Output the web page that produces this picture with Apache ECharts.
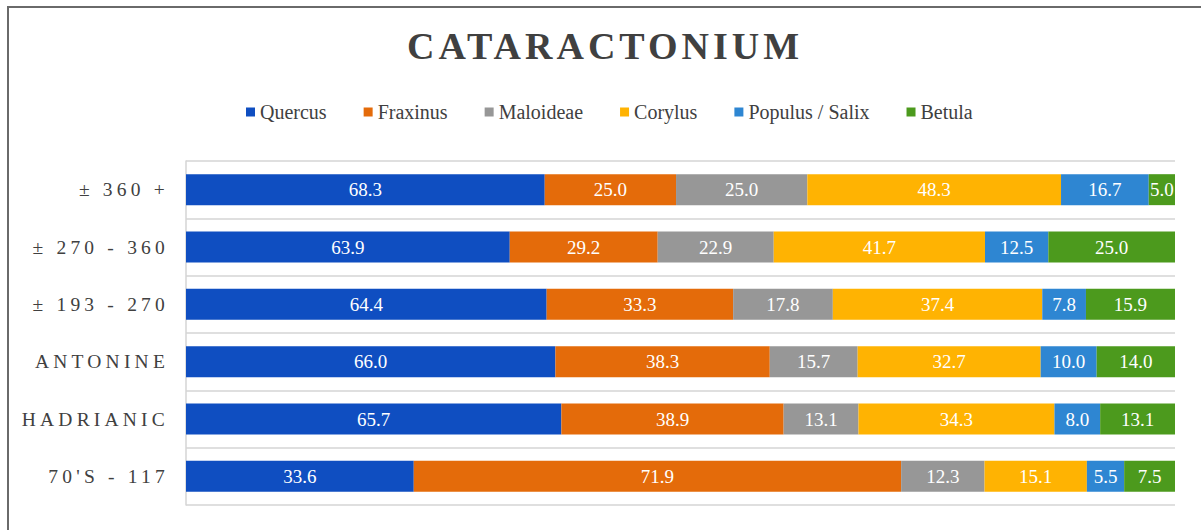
<!DOCTYPE html>
<html>
<head>
<meta charset="utf-8">
<script src="https://cdn.jsdelivr.net/npm/echarts@6/dist/echarts.min.js"></script>
<style>
html,body{margin:0;padding:0;background:#fff;}
#chart{width:1201px;height:530px;}
#chart text[style*="bold"]{letter-spacing:4px;}
#chart text[style*="19.5px"]{letter-spacing:4.2px;}
</style>
</head>
<body>
<div id="chart"></div>
<script>
const categories = ["± 360 +", "± 270 - 360", "± 193 - 270", "ANTONINE", "HADRIANIC", "70'S - 117"];
const seriesNames = ["Quercus", "Fraxinus", "Maloideae", "Corylus", "Populus / Salix", "Betula"];
const quercus   = [68.3, 63.9, 64.4, 66.0, 65.7, 33.6];
const fraxinus  = [25.0, 29.2, 33.3, 38.3, 38.9, 71.9];
const maloideae = [25.0, 22.9, 17.8, 15.7, 13.1, 12.3];
const corylus   = [48.3, 41.7, 37.4, 32.7, 34.3, 15.1];
const populus   = [16.7, 12.5, 7.8, 10.0, 8.0, 5.5];
const betula    = [5.0, 25.0, 15.9, 14.0, 13.1, 7.5];
const colors = ['#0F4EC1', '#E46B0A', '#979797', '#FFB302', '#2E86D2', '#4C9A1D'];

const raw = [quercus, fraxinus, maloideae, corylus, populus, betula];
const totals = categories.map((c, i) => raw.reduce((s, arr) => s + arr[i], 0));

const serif = "'Liberation Serif', 'DejaVu Serif', serif";

const series = raw.map((arr, k) => ({
  name: seriesNames[k],
  type: 'bar',
  stack: 'total',
  barWidth: '54%',
  itemStyle: { color: colors[k] },
  label: {
    show: true,
    position: 'inside',
    color: '#ffffff',
    fontFamily: serif,
    fontSize: 19,
    formatter: p => arr[p.dataIndex].toFixed(1)
  },
  data: arr.map((v, i) => v / totals[i] * 100)
}));

const chart = echarts.init(document.getElementById('chart'), null, { renderer: 'svg' });
chart.setOption({
  animation: false,
  color: colors,
  title: {
    text: 'CATARACTONIUM',
    left: 402,
    top: 22,
    textStyle: { fontFamily: serif, fontSize: 38, fontWeight: 'bold', color: '#404040' }
  },
  legend: {
    top: 97,
    left: 241,
    icon: 'rect',
    itemWidth: 9,
    itemHeight: 9,
    itemGap: 37,
    textStyle: { fontFamily: serif, fontSize: 20, color: '#404040' },
    data: seriesNames
  },
  grid: { left: 186, right: 26, top: 161, bottom: 25, containLabel: false },
  xAxis: {
    type: 'value',
    min: 0,
    max: 100,
    show: false
  },
  yAxis: {
    type: 'category',
    inverse: true,
    data: categories,
    axisTick: { show: false },
    axisLine: { show: true, lineStyle: { color: '#d4d4d4', width: 1.5 } },
    splitLine: { show: true, lineStyle: { color: '#d4d4d4', width: 1.5 } },
    axisLabel: { fontFamily: serif, fontSize: 19.5, color: '#404040', margin: 17 }
  },
  graphic: [{
    type: 'rect',
    shape: { x: 8, y: 7, width: 1220, height: 540 },
    style: { fill: 'none', stroke: '#6a6a6a', lineWidth: 2 },
    silent: true
  }],
  series: series
});
</script>
</body>
</html>
